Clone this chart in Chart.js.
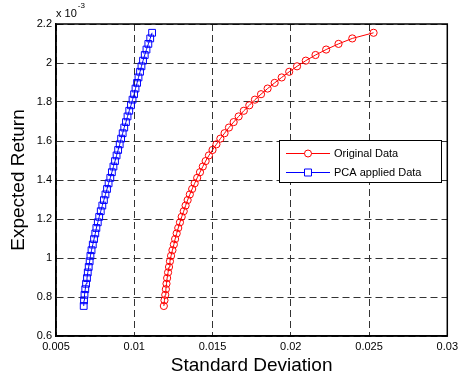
<!DOCTYPE html>
<html><head><meta charset="utf-8">
<script src="https://cdn.jsdelivr.net/npm/chart.js@4.4.0/dist/chart.umd.min.js"></script>
<style>html,body{margin:0;padding:0;background:#fff}</style>
</head><body>
<canvas id="c" width="462" height="381" style="display:block;width:462px;height:381px"></canvas>
<script>
const seriesNames = ['Original Data', 'PCA applied Data'];
// expected return, in units of 10^-3
const expectedReturnE3 = [0.754,0.783,0.811,0.840,0.868,0.897,0.926,0.954,0.983,1.011,
  1.040,1.069,1.097,1.126,1.154,1.183,1.211,1.240,1.269,1.297,
  1.326,1.354,1.383,1.411,1.440,1.469,1.497,1.526,1.554,1.583,
  1.612,1.640,1.669,1.697,1.726,1.755,1.783,1.812,1.840,1.869,
  1.898,1.926,1.955,1.983,2.012,2.041,2.069,2.098,2.126,2.155];
const stdOriginal = [0.01189,0.01193,0.01198,0.01202,0.01206,0.01210,0.01216,0.01222,0.01228,0.01235,
  0.01244,0.01253,0.01261,0.01271,0.01281,0.01292,0.01303,0.01316,0.01328,0.01341,
  0.01355,0.01370,0.01386,0.01402,0.01420,0.01438,0.01456,0.01477,0.01500,0.01525,
  0.01550,0.01577,0.01605,0.01635,0.01667,0.01700,0.01735,0.01771,0.01810,0.01852,
  0.01897,0.01942,0.01990,0.02040,0.02096,0.02158,0.02226,0.02305,0.02393,0.02529];
const stdPCA = [0.00677,0.00679,0.00682,0.00687,0.00692,0.00698,0.00703,0.00709,0.00715,0.00720,
  0.00727,0.00735,0.00743,0.00751,0.00758,0.00767,0.00776,0.00786,0.00796,0.00806,
  0.00816,0.00826,0.00836,0.00847,0.00857,0.00867,0.00877,0.00887,0.00897,0.00907,
  0.00916,0.00926,0.00936,0.00947,0.00957,0.00968,0.00979,0.00989,0.00999,0.01008,
  0.01018,0.01027,0.01037,0.01046,0.01056,0.01067,0.01078,0.01090,0.01102,0.01114];
const xTicks = [0.005, 0.01, 0.015, 0.02, 0.025, 0.03];
const yTicks = [0.6, 0.8, 1.0, 1.2, 1.4, 1.6, 1.8, 2.0, 2.2];
const xLabel = 'Standard Deviation';
const yLabel = 'Expected Return';

const FONT = "'Liberation Sans', Arial, sans-serif";
Chart.defaults.font.family = FONT;
Chart.defaults.color = '#000';

const toPoints = (xs) => xs.map((x, i) => ({x: x, y: expectedReturnE3[i]}));

const boxPlugin = {
  id: 'box',
  afterDatasetsDraw(chart) {
    const {ctx, chartArea: a} = chart;
    ctx.save();
    ctx.strokeStyle = '#000';
    ctx.lineWidth = 1.5;
    ctx.strokeRect(a.left, a.top, a.right - a.left, a.bottom - a.top);
    // exponent label
    ctx.fillStyle = '#000';
    ctx.textBaseline = 'middle';
    ctx.textAlign = 'left';
    ctx.font = '11px ' + FONT;
    ctx.fillText('x 10', a.left, a.top - 10);
    const w = ctx.measureText('x 10').width;
    ctx.font = '8px ' + FONT;
    ctx.fillText('-3', a.left + w + 1, a.top - 18);
    // legend
    const lx = 279, ly = 140, lw = 162, lh = 42;
    ctx.fillStyle = '#fff';
    ctx.fillRect(lx, ly, lw, lh);
    ctx.lineWidth = 1;
    ctx.strokeStyle = '#000';
    ctx.strokeRect(lx + 0.5, ly + 0.5, lw, lh);
    chart.data.datasets.forEach((ds, i) => {
      const y = ly + 13.5 + i * 19;
      ctx.strokeStyle = ds.borderColor;
      ctx.lineWidth = 1;
      ctx.beginPath();
      ctx.moveTo(286, y); ctx.lineTo(330, y); ctx.stroke();
      ctx.beginPath();
      if (ds.pointStyle === 'rect') {
        ctx.rect(304.5, y - 3.5, 7, 7);
      } else {
        ctx.arc(308, y, 3.5, 0, Math.PI * 2);
      }
      ctx.fillStyle = '#fff';
      ctx.fill();
      ctx.stroke();
      ctx.fillStyle = '#000';
      ctx.font = '11px ' + FONT;
      ctx.textAlign = 'left';
      ctx.textBaseline = 'middle';
      ctx.fillText(ds.label, 334, y);
    });
    ctx.restore();
  }
};

new Chart(document.getElementById('c'), {
  type: 'line',
  data: {
    datasets: [
      {label: seriesNames[0], data: toPoints(stdOriginal), borderColor: '#ff0000', backgroundColor: 'rgba(0,0,0,0)',
       borderWidth: 1, pointStyle: 'circle', pointRadius: 3.6, pointBorderWidth: 1, pointBorderColor: '#ff0000',
       pointBackgroundColor: 'rgba(0,0,0,0)', tension: 0, fill: false},
      {label: seriesNames[1], data: toPoints(stdPCA), borderColor: '#0000ff', backgroundColor: 'rgba(0,0,0,0)',
       borderWidth: 1, pointStyle: 'rect', pointRadius: 4.8, pointBorderWidth: 1, pointBorderColor: '#0000ff',
       pointBackgroundColor: 'rgba(0,0,0,0)', tension: 0, fill: false}
    ]
  },
  options: {
    responsive: false,
    animation: false,
    devicePixelRatio: 1,
    layout: {padding: {top: 24, right: 13, left: 0, bottom: 0}},
    plugins: {legend: {display: false}, tooltip: {enabled: false}},
    scales: {
      x: {
        type: 'linear', min: 0.005, max: 0.03,
        afterBuildTicks: (s) => { s.ticks = xTicks.map(v => ({value: v})); },
        afterFit: (s) => { s.height = 45; },
        ticks: {callback: (v) => String(Math.round(v * 1000) / 1000), font: {size: 11}, padding: 4, maxRotation: 0, autoSkip: false, color: '#000'},
        grid: {color: '#333', lineWidth: 1, drawTicks: false},
        border: {display: true, color: '#000', width: 1.5, dash: [7, 4]},
        title: {display: true, text: xLabel, font: {size: 19}, padding: {top: 0, bottom: 4}, color: '#000'}
      },
      y: {
        type: 'linear', min: 0.6, max: 2.2,
        afterBuildTicks: (s) => { s.ticks = yTicks.map(v => ({value: v})); },
        afterFit: (s) => { s.width = 56; },
        ticks: {callback: (v) => String(Math.round(v * 10) / 10), font: {size: 11}, padding: 4, autoSkip: false, color: '#000'},
        grid: {color: '#333', lineWidth: 1, drawTicks: false},
        border: {display: true, color: '#000', width: 1.5, dash: [7, 4]},
        title: {display: true, text: yLabel, font: {size: 19}, padding: {top: 7, bottom: 0}, color: '#000'}
      }
    }
  },
  plugins: [boxPlugin]
});
</script>
</body></html>
